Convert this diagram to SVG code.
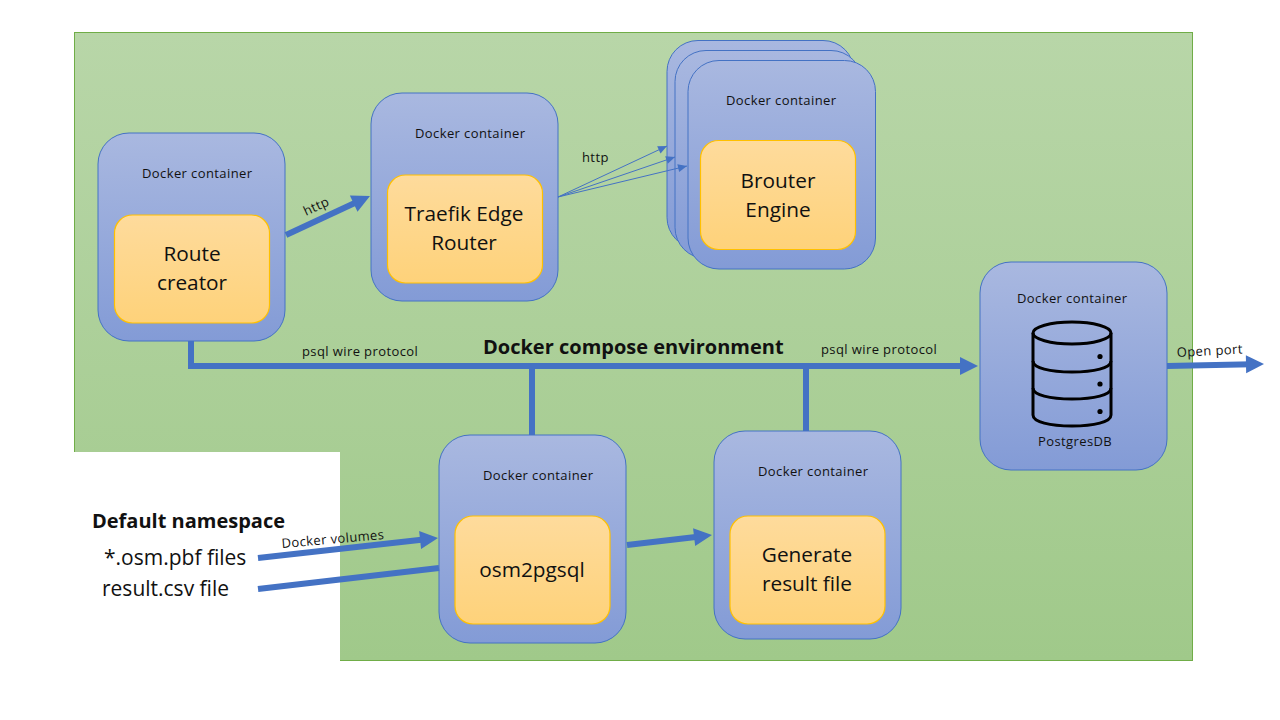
<svg xmlns="http://www.w3.org/2000/svg" width="1280" height="720" viewBox="0 0 1280 720">
<style>
text{font-family:"Open Sans","Noto Sans","Liberation Sans",sans-serif;fill:#111}
.dc{fill:url(#blue);stroke:#4472c4;stroke-width:1}
.in{fill:url(#orange);stroke:#ffc000;stroke-width:1.2}
.s{font-size:13px;letter-spacing:.4px}
.b{font-size:20.800px;text-anchor:middle}
.f{font-size:21px}
.h{font-size:20px;font-weight:700}
.c{stroke:#4472c4;fill:none}
.w5{stroke-width:6}
.t{stroke-width:1}
.head{fill:#4472c4;stroke:none}
</style>
<defs>
<linearGradient id="green" x1="0" y1="0" x2="0" y2="1"><stop offset="0" stop-color="#b8d6a8"/><stop offset="1" stop-color="#a0c98a"/></linearGradient>
<linearGradient id="blue" x1="0" y1="0" x2="0" y2="1"><stop offset="0" stop-color="#a9b8e0"/><stop offset="1" stop-color="#839bd6"/></linearGradient>
<linearGradient id="orange" x1="0" y1="0" x2="0" y2="1"><stop offset="0" stop-color="#fedb9c"/><stop offset="1" stop-color="#fed27a"/></linearGradient>
<marker id="small" markerUnits="userSpaceOnUse" markerWidth="12" markerHeight="10" refX="10" refY="5" orient="auto" overflow="visible"><path d="M1 1L10 5L1 9Z" fill="#4472c4"/></marker>
<path id="head" class="head" d="M-18 -9L0 0L-18 9Z"/>
</defs>
<rect width="1280" height="720" fill="#fff"/>
<rect id="env" x="74.500" y="32.500" width="1118" height="628" fill="url(#green)" stroke="#70ad47"/>
<rect id="ns" x="74" y="452" width="266" height="220" fill="#fff"/>

<g id="route-creator">
<rect class="dc" x="98" y="133" width="187" height="208" rx="31"/>
<text class="s" x="142" y="178">Docker container</text>
<rect class="in" x="114.500" y="215" width="155" height="108" rx="18"/>
<text class="b" x="192" y="261">Route</text>
<text class="b" x="192" y="290">creator</text>
</g>
<g id="traefik">
<rect class="dc" x="371" y="93" width="187" height="208" rx="31"/>
<text class="s" x="415" y="138">Docker container</text>
<rect class="in" x="387.500" y="175" width="155" height="108" rx="18"/>
<text class="b" x="464" y="221">Traefik Edge</text>
<text class="b" x="464" y="250">Router</text>
</g>
<g id="brouter-back">
<rect class="dc" x="667" y="40.500" width="187" height="208" rx="31"/>
</g>
<g id="brouter-mid">
<rect class="dc" x="675" y="50.500" width="187" height="208" rx="31"/>
</g>
<g id="brouter">
<rect class="dc" x="688" y="60.500" width="187.500" height="208.500" rx="31"/>
<text class="s" x="726" y="105">Docker container</text>
<rect class="in" x="700.500" y="140.500" width="155" height="109" rx="18"/>
<text class="b" x="778" y="188">Brouter</text>
<text class="b" x="778" y="217">Engine</text>
</g>
<g id="postgres">
<rect class="dc" x="980" y="262" width="187" height="208" rx="31"/>
<text class="s" x="1017" y="303">Docker container</text>
<g fill="none" stroke="#000" stroke-width="3">
<ellipse cx="1072" cy="333" rx="39" ry="11"/>
<path d="M1033 333V415C1033 422 1050 426 1072 426S1111 422 1111 415V333"/>
<path d="M1033 361C1033 368 1050 372 1072 372S1111 368 1111 361"/>
<path d="M1033 388C1033 395 1050 399 1072 399S1111 395 1111 388"/>
</g>
<g fill="#000"><circle cx="1100" cy="356.500" r="2.600"/><circle cx="1100" cy="384" r="2.600"/><circle cx="1100" cy="411.500" r="2.600"/></g>
<text class="s" x="1038" y="446">PostgresDB</text>
</g>
<g id="osm2pgsql">
<rect class="dc" x="439" y="435" width="187" height="208" rx="31"/>
<text class="s" x="483" y="480">Docker container</text>
<rect class="in" x="455" y="516" width="155" height="108" rx="18"/>
<text class="b" x="532" y="577">osm2pgsql</text>
</g>
<g id="generate">
<rect class="dc" x="714" y="431" width="187" height="208" rx="31"/>
<text class="s" x="758" y="476">Docker container</text>
<rect class="in" x="730" y="516" width="155" height="108" rx="18"/>
<text class="b" x="807" y="562">Generate</text>
<text class="b" x="807" y="591">result file</text>
</g>

<g id="connectors">
<path class="c w5" d="M286 235L358 201.500"/>
<use href="#head" transform="translate(370 196) rotate(-25)"/>
<path class="c t" d="M558 197L667 146" marker-end="url(#small)"/>
<path class="c t" d="M558 197L675 157" marker-end="url(#small)"/>
<path class="c t" d="M558 197L687 166" marker-end="url(#small)"/>
<path class="c w5" d="M191 341V366H965"/>
<use href="#head" transform="translate(978 366)"/>
<path class="c w5" d="M532 366V435"/>
<path class="c w5" d="M806 366V431"/>
<path class="c w5" d="M1167 366L1252 364.300"/>
<use href="#head" transform="translate(1264 364) rotate(-1)"/>
<path class="c w5" d="M627 545L700 536.400"/>
<use href="#head" transform="translate(712 535) rotate(-6.700)"/>
<path class="c w5" d="M258 558L426 539.300"/>
<use href="#head" transform="translate(438 538) rotate(-6.300)"/>
<path class="c w5" d="M258 589L439 568"/>
</g>

<g id="labels">
<text class="s" transform="translate(306 216) rotate(-25)">http</text>
<text class="s" x="582" y="162">http</text>
<text class="s" x="302" y="356">psql wire protocol</text>
<text class="s" x="821" y="354">psql wire protocol</text>
<text class="h" x="483" y="354">Docker compose environment</text>
<text class="s" transform="translate(1177 357) rotate(-3)">Open port</text>
<text class="s" transform="translate(282 548) rotate(-5)">Docker volumes</text>
<text class="h" x="92" y="528">Default namespace</text>
<text class="f" x="104" y="565">*.osm.pbf files</text>
<text class="f" x="102" y="596">result.csv file</text>
</g>
</svg>
